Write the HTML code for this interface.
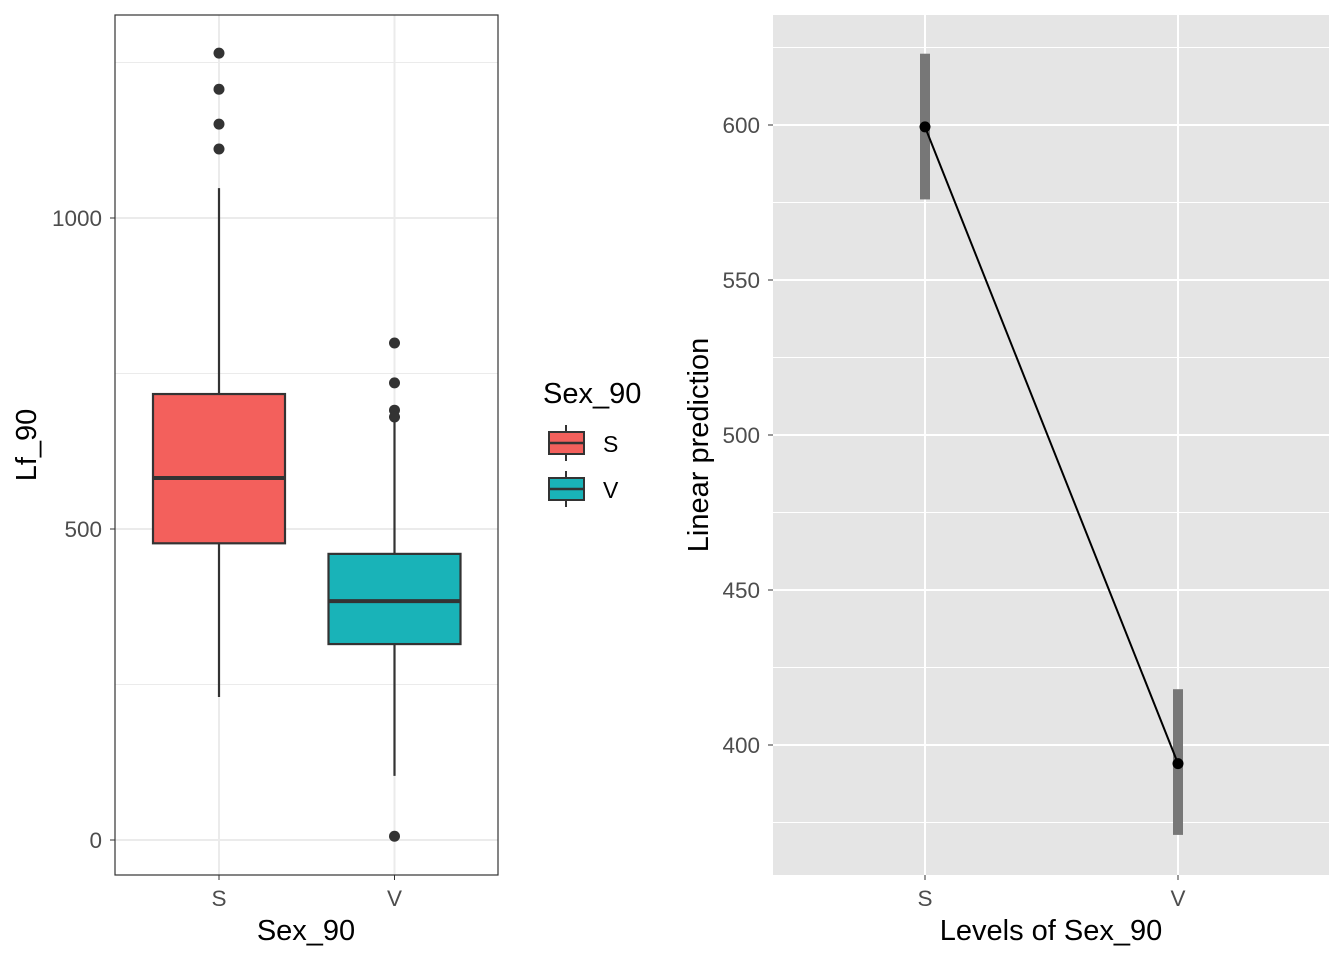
<!DOCTYPE html>
<html><head><meta charset="utf-8"><style>
body{margin:0;background:#fff;font-family:"Liberation Sans",sans-serif}
svg text{font-family:"Liberation Sans",sans-serif}
</style></head><body>
<svg id="c" width="1344" height="960" xmlns="http://www.w3.org/2000/svg"></svg>
<script>
const cats=["S","V"];
const q1=[477,315], med=[582,384], q3=[717,460], wLo=[230,103], wHi=[1048,675];
const outS=[1265,1207,1151,1111];
const outV=[799,735,691,680,6];
const colors=["#F3605C","#19B3B8"];
const lTicks=[0,500,1000];
const pred=[599.4,394], ciLo=[576,371], ciHi=[623,418];
const rTicks=[400,450,500,550,600];
const NS="http://www.w3.org/2000/svg";
const svg=document.getElementById('c');
const TF=22.5, AF=29;
function el(t,a,p){const e=document.createElementNS(NS,t);for(const k in a)e.setAttribute(k,a[k]);(p||svg).appendChild(e);return e;}
// left panel
const L={x0:115,x1:498,y0:15,y1:875};
const ly=v=>840-v*0.622;
const lx=i=>219+i*175.5;
const lp=el('g',{});


el('rect',{x:L.x0,y:L.y0,width:L.x1-L.x0,height:L.y1-L.y0,fill:'#fff'},lp);
[250,750,1250].forEach(v=>el('line',{x1:L.x0,x2:L.x1,y1:ly(v),y2:ly(v),stroke:'#ebebeb','stroke-width':1},lp));
lTicks.forEach(v=>{el('line',{x1:L.x0,x2:L.x1,y1:ly(v),y2:ly(v),stroke:'#ebebeb','stroke-width':2},lp);
 el('line',{x1:L.x0-5,x2:L.x0,y1:ly(v),y2:ly(v),stroke:'#333','stroke-width':1},lp);
 const t=el('text',{x:L.x0-13,y:ly(v)+8,'text-anchor':'end','font-size':TF,fill:'#4d4d4d'},lp);t.textContent=v;
 });
cats.forEach((c,i)=>{el('line',{x1:lx(i),x2:lx(i),y1:L.y0,y2:L.y1,stroke:'#ebebeb','stroke-width':2},lp);
 el('line',{x1:lx(i),x2:lx(i),y1:L.y1,y2:L.y1+5,stroke:'#333'},lp);
 const t=el('text',{x:lx(i),y:906,'text-anchor':'middle','font-size':TF,fill:'#4d4d4d'},lp);t.textContent=c;
 });
cats.forEach((c,i)=>{const g=el('g',{},lp);
 
 el('line',{x1:lx(i),x2:lx(i),y1:ly(wLo[i]),y2:ly(q1[i]),stroke:'#333','stroke-width':2.2},g);
 el('line',{x1:lx(i),x2:lx(i),y1:ly(wHi[i]),y2:ly(q3[i]),stroke:'#333','stroke-width':2.2},g);
 el('rect',{x:lx(i)-66,y:ly(q3[i]),width:132,height:ly(q1[i])-ly(q3[i]),fill:colors[i],stroke:'#333','stroke-width':2.2},g);
 el('line',{x1:lx(i)-66,x2:lx(i)+66,y1:ly(med[i]),y2:ly(med[i]),stroke:'#333','stroke-width':4},g);
 (i==0?outS:outV).forEach(v=>{const o=el('circle',{cx:lx(i),cy:ly(v),r:5.5,fill:'#333'},g);
  });});
el('rect',{x:L.x0,y:L.y0,width:L.x1-L.x0,height:L.y1-L.y0,fill:'none',stroke:'#333','stroke-width':1.2},lp);
let t=el('text',{x:306,y:940,'text-anchor':'middle','font-size':AF,fill:'#000'});t.textContent='Sex_90';

t=el('text',{x:0,y:0,transform:'translate(36,445) rotate(-90)','text-anchor':'middle','font-size':AF,fill:'#000'});t.textContent='Lf_90';

// legend
const lg=el('g',{});
t=el('text',{x:543,y:403,'font-size':AF},lg);t.textContent='Sex_90';

cats.forEach((c,i)=>{const y=431+i*46;const g=el('g',{},lg);
 
 el('line',{x1:566,x2:566,y1:y-6,y2:y+30,stroke:'#333','stroke-width':2},g);
 el('rect',{x:549,y:y+1,width:35,height:22,fill:colors[i],stroke:'#333','stroke-width':2},g);
 el('line',{x1:549,x2:584,y1:y+12,y2:y+12,stroke:'#333','stroke-width':2.5},g);
 const tt=el('text',{x:603,y:y+21,'font-size':23},g);tt.textContent=c;});
// right panel
const R={x0:773,x1:1329,y0:15,y1:875};
const ry=v=>745-(v-400)*3.1;
const rx=i=>925+i*253;
const rp=el('g',{});
el('rect',{x:R.x0,y:R.y0,width:R.x1-R.x0,height:R.y1-R.y0,fill:'#e5e5e5'},rp);
[375,425,475,525,575,625].forEach(v=>{if(ry(v)>R.y0)el('line',{x1:R.x0,x2:R.x1,y1:ry(v),y2:ry(v),stroke:'#fff','stroke-width':1},rp);});
rTicks.forEach(v=>{el('line',{x1:R.x0,x2:R.x1,y1:ry(v),y2:ry(v),stroke:'#fff','stroke-width':2},rp);
 el('line',{x1:R.x0-5,x2:R.x0,y1:ry(v),y2:ry(v),stroke:'#333'},rp);
 const tt=el('text',{x:R.x0-13,y:ry(v)+8,'text-anchor':'end','font-size':TF,fill:'#4d4d4d'},rp);tt.textContent=v;
 });
cats.forEach((c,i)=>{el('line',{x1:rx(i),x2:rx(i),y1:R.y0,y2:R.y1,stroke:'#fff','stroke-width':2},rp);
 el('line',{x1:rx(i),x2:rx(i),y1:R.y1,y2:R.y1+5,stroke:'#333'},rp);
 const tt=el('text',{x:rx(i),y:906,'text-anchor':'middle','font-size':TF,fill:'#4d4d4d'},rp);tt.textContent=c;
 });
cats.forEach((c,i)=>{const b=el('rect',{x:rx(i)-5,y:ry(ciHi[i]),width:10,height:ry(ciLo[i])-ry(ciHi[i]),fill:'#777'},rp);
 });
const pl=el('polyline',{points:cats.map((c,i)=>rx(i)+','+ry(pred[i])).join(' '),fill:'none',stroke:'#000','stroke-width':2},rp);

cats.forEach((c,i)=>{const p=el('circle',{cx:rx(i),cy:ry(pred[i]),r:5.5,fill:'#000'},rp);
 });
t=el('text',{x:1051,y:940,'text-anchor':'middle','font-size':AF});t.textContent='Levels of Sex_90';

t=el('text',{x:0,y:0,transform:'translate(708,445) rotate(-90)','text-anchor':'middle','font-size':AF});t.textContent='Linear prediction';

</script>
</body></html>
